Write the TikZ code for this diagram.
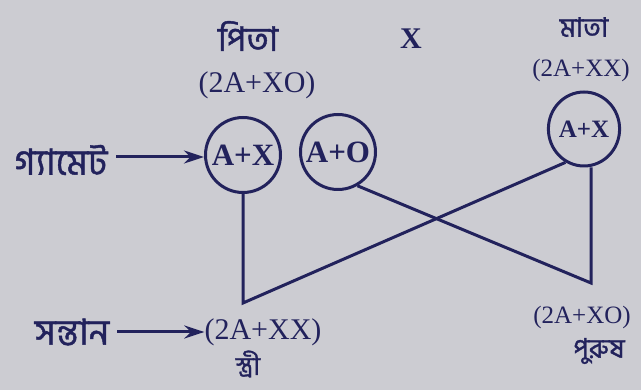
\documentclass[tikz,border=0pt]{standalone}
\usepackage{fontspec}
\setmainfont{Liberation Serif}
\newfontfamily\bn[Script=Bengali,FakeBold=1.2]{Hind Siliguri}
\usetikzlibrary{arrows.meta,shapes.geometric}
\definecolor{ink}{RGB}{34,34,92}
\definecolor{paper}{RGB}{204,204,210}
\tikzset{
  lbl/.style={text=ink, inner sep=0pt, font=\fontsize{30}{32}\selectfont},
  bnl/.style={text=ink, inner sep=0pt, font=\bn\fontsize{34}{36}\selectfont},
  gam/.style={draw=ink, line width=3pt, circle, minimum size=75pt, inner sep=0pt, text=ink, font=\bfseries\fontsize{31}{33}\selectfont},
  conn/.style={draw=ink, line width=3pt, line join=miter},
  arr/.style={draw=ink, line width=3pt, -{Stealth[length=20pt,width=13pt]}}
}
\begin{document}
\begin{tikzpicture}[x=1pt,y=-1pt]
\fill[paper] (0,0) rectangle (641,390);
\useasboundingbox (0,0) rectangle (641,390);
% parents
\node[bnl] (pita) at (248,36) {পিতা};
\node[lbl, font=\bfseries\fontsize{30}{32}\selectfont] (cross) at (411,39) {X};
\node[bnl, font=\bn\fontsize{27}{29}\selectfont] (mata) at (584,27) {মাতা};
\node[lbl] (fgen) at (257,85) {(2A+XO)};
\node[lbl, font=\fontsize{25}{27}\selectfont] (mgen) at (581,70) {(2A+XX)};
% gametes
\node[gam] (fax) at (243,155) {A+X};
\node[gam] (fao) at (338,152) {A+O};
\node[gam, ellipse, minimum width=64pt, minimum height=74pt, font=\bfseries\fontsize{25}{27}\selectfont] (max) at (584,129) {A+X};
\node[bnl, font=\bn\fontsize{36}{38}\selectfont] (gamete) at (61,160) {গ্যামেট};
\draw[arr] (116,157) -- (fax.west |- 0,157);
% crossing lines
\coordinate (vl) at (243,303);
\coordinate (vr) at (591,283);
\draw[conn] (fax.south) -- (vl) -- (max.241);
\draw[conn] (fao.300) -- (vr) -- (vr |- max.south);
% offspring
\node[bnl, font=\bn\fontsize{36}{38}\selectfont] (santan) at (72,332) {সন্তান};
\node[lbl] (child1) at (263,332) {(2A+XX)};
\draw[arr] (117,332) -- (child1.west);
\node[bnl, font=\bn\fontsize{26}{28}\selectfont] (stri) at (248,364) {স্ত্রী};
\node[lbl, font=\fontsize{25}{27}\selectfont] (child2) at (582,317) {(2A+XO)};
\node[bnl, font=\bn\fontsize{27}{29}\selectfont] (purush) at (599,351) {পুরুষ};
\end{tikzpicture}
\end{document}
